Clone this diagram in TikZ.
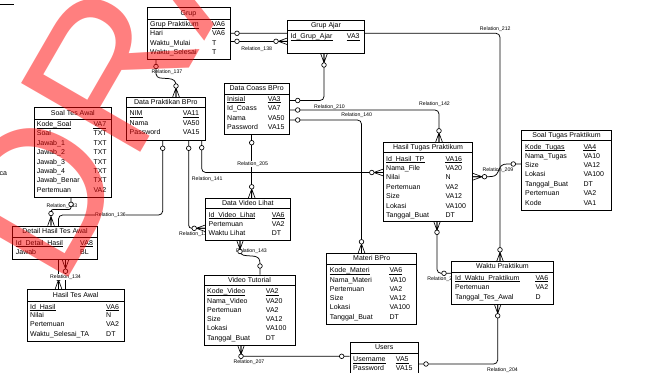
\documentclass[tikz,border=0pt]{standalone}
\usepackage{fontspec}
\setmainfont{Liberation Sans}
\usetikzlibrary{calc,fit,backgrounds}
\newcount\rowc
\tikzset{
  entbox/.style={draw, line width=0.8pt, fill=white, inner sep=0pt},
  ttl/.style={font=\fontsize{7}{8}\selectfont, inner sep=0pt, text height=5.2pt, text depth=1.4pt},
  rowtxt/.style={font=\fontsize{7}{8}\selectfont, inner sep=0pt, anchor=base west},
  ulst/.style={line width=0.6pt},
  seplin/.style={line width=0.6pt},
  rel/.style={font=\fontsize{5.2}{6}\selectfont, inner sep=0.4pt},
  relw/.style={rel, fill=white},
  link/.style={line width=0.75pt},
  oc/.style={line width=0.65pt, fill=white},
  wmark/.style={font=\fontsize{200}{200}\selectfont, text=red, text opacity=0.5, inner sep=0pt, anchor=base west},
  pics/crow/.style={code={\draw[line width=0.65pt] (9,0) -- (0,-3.3) (9,0) -- (0,0) (9,0) -- (0,3.3);}},
}
\newcommand\ent[7]{%
  \node[entbox, fit={(#2,#3) (#4,#5)}] (#1) {};
  \node[ttl] (#1-t) at ({(#2+#4)/2},{(#3+#7)/2}) {#6};
  \draw[seplin] (#2,#7) -- (#4,#7);
}
\newcommand\rw[5]{\global\advance\rowc by 1
  \node[rowtxt] (n\the\rowc) at (#1,{#2+2.4}) {#3};
  \node[rowtxt] (t\the\rowc) at (#4,{#2+2.4}) {#5};}
\newcommand\rk[5]{\global\advance\rowc by 1
  \node[rowtxt] (n\the\rowc) at (#1,{#2+2.4}) {#3};
  \node[rowtxt] (t\the\rowc) at (#4,{#2+2.4}) {#5};
  \draw[ulst] ([yshift=-1.5pt]n\the\rowc.base west) -- ([yshift=-1.5pt]n\the\rowc.base east);
  \draw[ulst] ([yshift=-1.5pt]t\the\rowc.base west) -- ([yshift=-1.5pt]t\the\rowc.base east);}
\newcommand\oc[1]{\draw[oc] (#1) circle[radius=2.3pt];}
\begin{document}
\begin{tikzpicture}[x=1pt,y=-1pt]
\useasboundingbox (0,0) rectangle (666,372);

% ---------- entities ----------
\ent{grup}{147}{7.3}{230}{59}{Grup}{19}
\rk{150}{24}{Grup Praktikum}{212}{VA6}
\rw{150}{33.3}{Hari}{212}{VA6}
\rw{150}{42.7}{Waktu\_Mulai}{212}{T}
\rw{150}{52.3}{Waktu\_Selesai}{212}{T}

\ent{ga}{287.7}{20.7}{364.3}{53.3}{Grup Ajar}{30}
\rk{290.5}{36}{Id\_Grup\_Ajar}{346.7}{VA3}

\ent{dc}{224}{83.3}{289.3}{134.3}{Data Coass BPro}{94}
\rk{227}{98.7}{Inisial}{267.7}{VA3}
\rw{227}{108.3}{Id\_Coass}{267.7}{VA7}
\rw{227}{117.7}{Nama}{267.7}{VA50}
\rw{227}{127.3}{Password}{267.7}{VA15}

\ent{dp}{126}{97.3}{205.7}{140}{Data Praktikan BPro}{107.5}
\rk{129.5}{113.3}{NIM}{182.7}{VA11}
\rw{129.5}{123}{Nama}{182.7}{VA50}
\rw{129.5}{132.3}{Password}{182.7}{VA15}

\ent{sta}{34}{107.3}{111.7}{197.3}{Soal Tes Awal}{119}
\rk{36.7}{124.5}{Kode\_Soal}{93.3}{VA7}
\rw{36.7}{133.3}{Soal}{93.3}{TXT}
\rw{36.7}{142.7}{Jawab\_1}{93.3}{TXT}
\rw{36.7}{152.3}{Jawab\_2}{93.3}{TXT}
\rw{36.7}{161.7}{Jawab\_3}{93.3}{TXT}
\rw{36.7}{171.3}{Jawab\_4}{93.3}{TXT}
\rw{36.7}{180.3}{Jawab\_Benar}{93.3}{TXT}
\rw{36.7}{189.7}{Pertemuan}{93.3}{VA2}

\ent{dha}{12.7}{226}{97.3}{259.3}{Detail Hasil Tes Awal}{237}
\rk{15.7}{242.7}{Id\_Detail\_Hasil}{80}{VA8}
\rw{15.7}{251.7}{Jawab}{80}{BL}

\ent{hta}{27.3}{289.3}{124}{341.3}{Hasil Tes Awal}{301}
\rk{30}{306.7}{Id\_Hasil}{106}{VA6}
\rw{30}{315.3}{Nilai}{106}{N}
\rw{30}{324.3}{Pertemuan}{106}{VA2}
\rw{30}{333.7}{Waktu\_Selesai\_TA}{106}{DT}

\ent{dvl}{205.7}{198.3}{290}{240}{Data Video Lihat}{208}
\rk{208.5}{214.7}{Id\_Video\_Lihat}{271.7}{VA6}
\rw{208.5}{223.7}{Pertemuan}{271.7}{VA2}
\rw{208.5}{233.3}{Waktu Lihat}{271.7}{DT}

\ent{vt}{204}{275}{295}{345}{Video Tutorial}{285.7}
\rk{207}{291}{Kode\_Video}{265.7}{VA2}
\rw{207}{300.7}{Nama\_Video}{265.7}{VA20}
\rw{207}{310}{Pertemuan}{265.7}{VA2}
\rw{207}{318.7}{Size}{265.7}{VA12}
\rw{207}{328.3}{Lokasi}{265.7}{VA100}
\rw{207}{338}{Tanggal\_Buat}{265.7}{DT}

\ent{mb}{326.7}{253.3}{416.7}{324.3}{Materi BPro}{264.3}
\rk{329.7}{270}{Kode\_Materi}{389.3}{VA6}
\rw{329.7}{280}{Nama\_Materi}{389.3}{VA10}
\rw{329.7}{288.7}{Pertemuan}{389.3}{VA2}
\rw{329.7}{298.3}{Size}{389.3}{VA12}
\rw{329.7}{307.3}{Lokasi}{389.3}{VA100}
\rw{329.7}{316.7}{Tanggal\_Buat}{389.3}{DT}

\ent{wp}{451.7}{261.7}{553.3}{304}{Waktu Praktikum}{272.3}
\rk{455}{277.7}{Id\_Waktu\_Praktikum}{535.3}{VA6}
\rw{455}{287.3}{Pertemuan}{535.3}{VA2}
\rw{455}{296.7}{Tanggal\_Tes\_Awal}{535.3}{D}

\ent{us}{350}{342.7}{418.3}{380}{Users}{353.3}
\rk{353}{359.3}{Username}{395.7}{VA5}
\rw{353}{368.3}{Password}{395.7}{VA15}

\ent{htp}{383.3}{142.3}{472.7}{221}{Hasil Tugas Praktikum}{152.7}
\rk{386}{158.7}{Id\_Hasil\_TP}{445.3}{VA16}
\rw{386}{167.7}{Nama\_File}{445.3}{VA20}
\rw{386}{176.7}{Nilai}{445.3}{N}
\rw{386}{186.7}{Pertemuan}{445.3}{VA2}
\rw{386}{195.7}{Size}{445.3}{VA12}
\rw{386}{205.7}{Lokasi}{445.3}{VA100}
\rw{386}{215}{Tanggal\_Buat}{445.3}{DT}

\ent{stp}{521.7}{130.7}{611.3}{210}{Soal Tugas Praktikum}{140.7}
\rk{525}{146.7}{Kode\_Tugas}{583.3}{VA4}
\rw{525}{155.7}{Nama\_Tugas}{583.3}{VA10}
\rw{525}{165.3}{Size}{583.3}{VA12}
\rw{525}{174.3}{Lokasi}{583.3}{VA100}
\rw{525}{184.3}{Tanggal\_Buat}{583.3}{DT}
\rw{525}{193.3}{Pertemuan}{583.3}{VA2}
\rw{525}{202.7}{Kode}{583.3}{VA1}

% cut-off fragments at the left edge
\node[rowtxt] (frag) at (-0.5,175.7) {ca};
\coordinate (tl1) at (0,4.3);
\coordinate (tl2) at (14.3,4.3);
\draw[link] (tl1) -- (tl2);

% ---------- relations ----------
\begin{pgfonlayer}{background}
\fill[white] (0,0) rectangle (666,372);
% Relation_137
\draw[link] (grup.south -| 156,0) -- (156,74) .. controls (157,79) and (161,78) .. (168,78.5) .. controls (174,79) and (176,81) .. (176,86) -- (dp.north -| 176,0);
\node[rel] (l137) at (167,71.7) {Relation\_137};
\oc{156,66.5} \pic[rotate=90] at (dp.north -| 176,0) {crow}; \oc{176,86}
% Relation_212
\draw[link, rounded corners=4pt] (grup.east |- 0,33.3) -- (500,33.3) -- (wp.north -| 500,0);
\node[rel] (l212) at (495.3,29) {Relation\_212};
\oc{237,33.3} \pic[rotate=90] at (wp.north -| 500,0) {crow}; \oc{500,249.8}
% Relation_138
\draw[link] (grup.east |- 0,41.3) -- (ga.west |- 0,41.3);
\node[rel] (l138) at (256.8,48.7) {Relation\_138};
\oc{237,41.3} \pic[rotate=180] at (ga.west |- 0,41.3) {crow}; \oc{276,41.3}
% Relation_210
\draw[link, rounded corners=4pt] (ga.south -| 324,0) -- (324,100.5) -- (dc.east |- 0,100.5);
\node[rel] (l210) at (329.5,106.7) {Relation\_210};
\pic[rotate=-90] at (ga.south -| 324,0) {crow}; \oc{324,65} \oc{297.7,100.5}
% Relation_142
\draw[link, rounded corners=4pt] (dc.east |- 0,110) -- (439,110) -- (htp.north -| 439,0);
\node[rel] (l142) at (434.5,104.3) {Relation\_142};
\oc{297.7,110} \pic[rotate=90] at (htp.north -| 439,0) {crow}; \oc{439,130.8}
% Relation_140
\draw[link, rounded corners=4pt] (dc.east |- 0,120) -- (361.5,120) -- (mb.north -| 361.5,0);
\node[rel] (l140) at (356.7,115) {Relation\_140};
\oc{297.7,120} \pic[rotate=90] at (mb.north -| 361.5,0) {crow}; \oc{361.5,241.8}
% Relation_205
\draw[link] (dc.south -| 251.7,0) -- (dvl.north -| 251.7,0);
\node[relw] (l205) at (252.7,163.7) {Relation\_205};
\oc{251.7,142.7} \pic[rotate=90] at (dvl.north -| 251.7,0) {crow}; \oc{251.7,186.8}
% Relation_141
\draw[link, rounded corners=4pt] (dp.south -| 201.7,0) -- (201.7,172.5) -- (htp.west |- 0,172.5);
\node[rel] (l141) at (207.2,179) {Relation\_141};
\oc{201.7,147.7} \pic[rotate=180] at (htp.west |- 0,172.5) {crow}; \oc{371.8,172.5}
% Relation_136
\draw[link, rounded corners=4pt] (dp.south -| 162.7,0) -- (162.7,215) -- (58.5,215) -- (hta.north -| 58.5,0);
\node[relw] (l136) at (110.5,215) {Relation\_136};
\oc{162.7,148.3} \pic[rotate=90] at (hta.north -| 58.5,0) {crow}; \oc{58.5,278.5}
% Relation_139
\draw[link, rounded corners=3pt] (dp.south -| 188.7,0) -- (188.7,228.3) -- (dvl.west |- 0,228.3);
\node[rel] (l139) at (194.5,234.3) {Relation\_139};
\oc{188.7,148.3} \pic[rotate=180] at (dvl.west |- 0,228.3) {crow}; \oc{194.2,228.3}
% Relation_133
\node[rel] (l133) at (62,206) {Relation\_133};
\draw[link, rounded corners=2pt] (sta.south -| 71,0) -- (71,209.5) -- (51,209.5) -- (dha.north -| 51,0);
\oc{71,204.3} \pic[rotate=90] at (dha.north -| 51,0) {crow}; \oc{51,213.5}
% Relation_134
\draw[link] (dha.south -| 65.5,0) -- (hta.north -| 65.5,0);
\node[relw] (l134) at (65.5,276.7) {Relation\_134};
\pic[rotate=-90] at (dha.south -| 65.5,0) {crow}; \oc{65.5,271.2}
% Relation_143
\draw[link] (dvl.south -| 240,0) -- (240,251) .. controls (241,256) and (244,255.5) .. (252,256) .. controls (259,256.5) and (260,259) .. (260,264) -- (vt.north -| 260,0);
\node[rel] (l143) at (251.5,250.7) {Relation\_143};
\pic[rotate=-90] at (dvl.south -| 240,0) {crow}; \oc{240,251.5} \oc{260,266}
% Relation_207
\draw[link, rounded corners=3pt] (vt.south -| 241,0) -- (241,356.3) -- (us.west |- 0,356.3);
\node[rel] (l207) at (249,362.3) {Relation\_207};
\pic[rotate=-90] at (vt.south -| 241,0) {crow}; \oc{241,356.3} \oc{341.7,356.3}
% Relation_204
\draw[link, rounded corners=4pt] (us.east |- 0,364) -- (497.7,364) -- (wp.south -| 497.7,0);
\node[rel] (l204) at (502.5,370) {Relation\_204};
\oc{426,364} \pic[rotate=-90] at (wp.south -| 497.7,0) {crow}; \oc{497.7,315.8}
% Relation_211
\draw[link, rounded corners=4pt] (htp.south -| 437,0) -- (437,273.3) -- (wp.west |- 0,273.3);
\node[rel] (l211) at (442.5,278.7) {Relation\_211};
\pic[rotate=-90] at (htp.south -| 437,0) {crow}; \oc{437,232.3} \oc{444,273.3}
% Relation_209
\draw[link] (htp.east |- 0,176.7) -- (488,176.7) .. controls (494,176.7) and (496,176) .. (498,172) .. controls (500,166) and (502,164) .. (507,164) -- (stp.west |- 0,164);
\node[rel] (l209) at (498,170) {Relation\_209};
\pic at (htp.east |- 0,176.7) {crow}; \oc{484.5,176.7} \oc{513.3,164}
\end{pgfonlayer}

% ---------- watermark ----------
\node[wmark, rotate=60] (wm) at (60,292) {DRAFT};
\end{tikzpicture}
\end{document}
